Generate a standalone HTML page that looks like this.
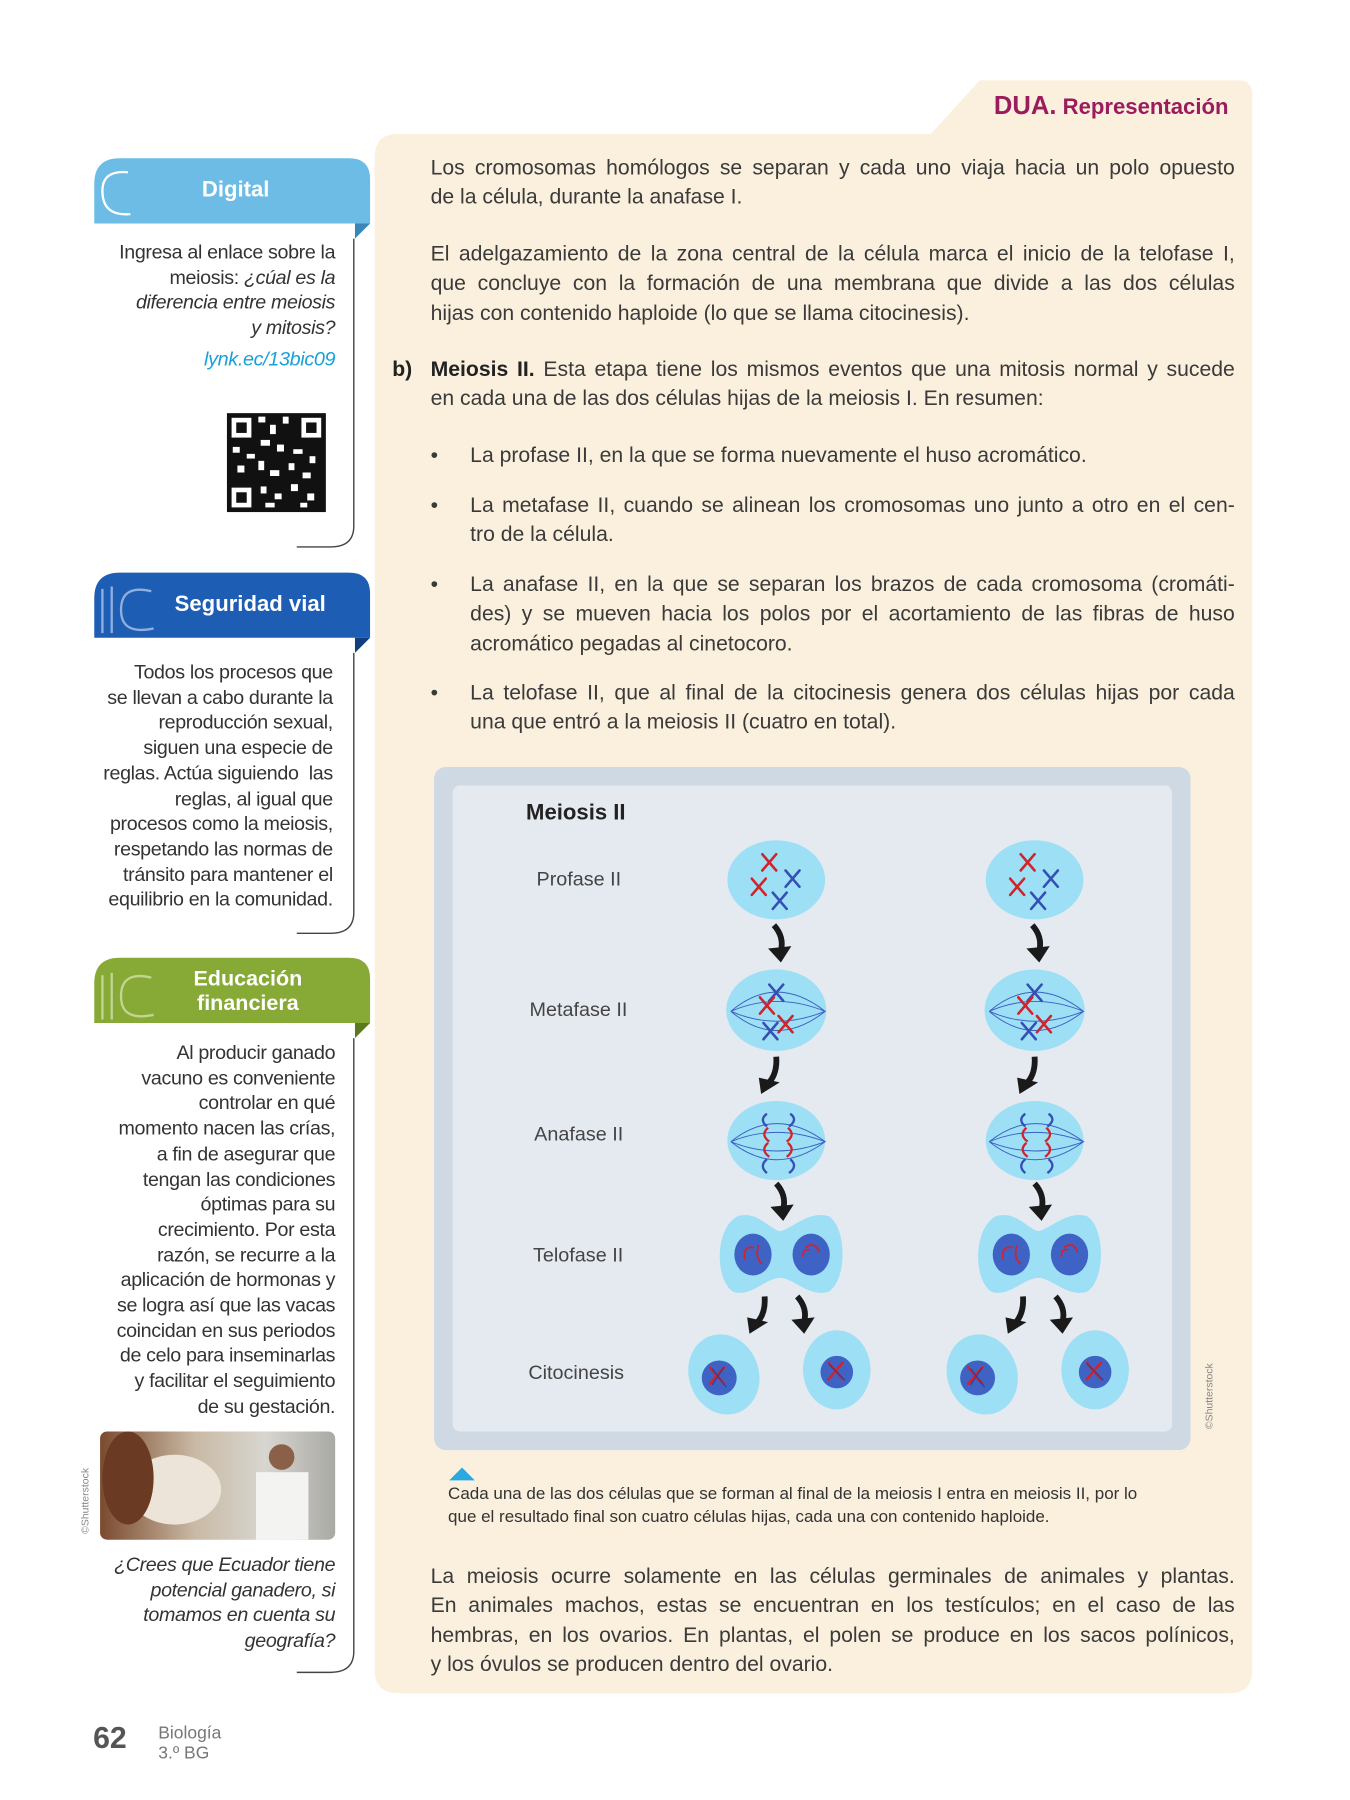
<!DOCTYPE html>
<html><head><meta charset="utf-8"><style>
html,body{margin:0;padding:0;background:#fff;}
body{width:1350px;height:1800px;overflow:hidden;position:relative;}
#w{position:absolute;left:0;top:0;width:1160px;height:1547px;transform:scale(1.16379);transform-origin:0 0;font-family:"Liberation Sans",sans-serif;color:#333;}
.a{position:absolute;}
.main{font-size:18.2px;line-height:25.3px;color:#3a3a3a;}
.j{text-align:justify;text-align-last:justify;white-space:nowrap;}
.side{font-size:16.9px;line-height:21.7px;text-align:right;color:#333;letter-spacing:-0.3px;}
.hdr{color:#fff;font-weight:bold;font-size:19px;text-align:center;}
.lbl{font-size:17px;color:#444;}
</style></head><body><div id="w">
<svg class="a" style="left:0;top:0" width="1160" height="1547" viewBox="0 0 1160 1547">
<defs>
<g id="arr"><path d="M-3,-20 Q6,-10 3,2" stroke="#1a1a1a" stroke-width="5" fill="none"/><path d="M-8,0 L12,-2 L3,12 Z" fill="#1a1a1a"/></g>
<g id="arrL"><path d="M5,-20 Q6,-6 -1,2" stroke="#1a1a1a" stroke-width="5" fill="none"/><path d="M-10,-2 L8,2 L-8,12 Z" fill="#1a1a1a"/></g>
<g id="xr"><path d="M-6,-7 L6,7 M6,-7 L-6,7" stroke-width="2.2" fill="none" stroke-linecap="round"/></g>
</defs>
<path d="M842,69 L1064,69 Q1076,69 1076,81 L1076,1435 Q1076,1455 1056,1455 L342,1455 Q322,1455 322,1435 L322,135 Q322,115 342,115 L800,115 Z" fill="#fbf0dd"/>
<path d="M842,69 L800,115 L810,115 L842,84 Z" fill="#fbf0dd"/>
<path d="M103,136 L300,136 Q318,136 318,154 L318,192 L81,192 L81,158 Q81,136 103,136Z" fill="#6cbce5"/>
<path d="M305,192 L318,192 L305,205Z" fill="#3b86b8"/>
<path d="M110,148 Q88,146 88,164 Q88,186 112,184" stroke="#fff" stroke-width="2" fill="none"/>
<path d="M103,492 L300,492 Q318,492 318,510 L318,548 L81,548 L81,514 Q81,492 103,492Z" fill="#1d5db3"/>
<path d="M305,548 L318,548 L305,561Z" fill="#123e80"/>
<path d="M88,506 L88,544 M96,504 L96,544 M130,508 Q104,502 104,524 Q104,546 132,540" stroke="#8fb0de" stroke-width="2" fill="none"/>
<path d="M103,823 L300,823 Q318,823 318,841 L318,879 L81,879 L81,845 Q81,823 103,823Z" fill="#87aa37"/>
<path d="M305,879 L318,879 L305,892Z" fill="#5b7a1e"/>
<path d="M88,838 L88,876 M96,836 L96,876 M130,840 Q104,834 104,856 Q104,878 132,872" stroke="#c2d592" stroke-width="2" fill="none"/>
<path d="M304,205 L304,452 Q304,470 284,470 L255,470" stroke="#444" stroke-width="1.2" fill="none"/>
<path d="M304,561 L304,784 Q304,802 284,802 L255,802" stroke="#444" stroke-width="1.2" fill="none"/>
<path d="M304,892 L304,1419 Q304,1437 284,1437 L255,1437" stroke="#444" stroke-width="1.2" fill="none"/>
<g fill="#111"><rect x="195" y="355" width="85" height="85"/></g>
<g fill="#fff">
<rect x="199" y="359" width="17" height="17"/><rect x="259" y="359" width="17" height="17"/><rect x="199" y="419" width="17" height="17"/>
<rect x="222" y="358" width="6" height="5"/><rect x="232" y="365" width="5" height="8"/><rect x="243" y="358" width="5" height="6"/><rect x="224" y="378" width="8" height="5"/>
<rect x="200" y="384" width="6" height="5"/><rect x="212" y="390" width="7" height="4"/><rect x="238" y="382" width="6" height="6"/><rect x="252" y="386" width="8" height="4"/><rect x="266" y="392" width="5" height="6"/>
<rect x="204" y="400" width="6" height="6"/><rect x="222" y="396" width="5" height="8"/><rect x="232" y="404" width="8" height="5"/><rect x="248" y="398" width="5" height="6"/><rect x="260" y="406" width="7" height="5"/>
<rect x="224" y="418" width="5" height="6"/><rect x="236" y="424" width="6" height="5"/><rect x="250" y="416" width="6" height="6"/><rect x="264" y="424" width="6" height="6"/><rect x="228" y="432" width="8" height="4"/><rect x="258" y="432" width="6" height="4"/>
</g>
<g fill="#111"><rect x="203" y="363" width="9" height="9"/><rect x="263" y="363" width="9" height="9"/><rect x="203" y="423" width="9" height="9"/></g>
<defs><linearGradient id="ph" x1="0" x2="1"><stop offset="0" stop-color="#7a4a2e"/><stop offset="0.4" stop-color="#c9b9a4"/><stop offset="0.7" stop-color="#d8d6d0"/><stop offset="1" stop-color="#a9a9a4"/></linearGradient></defs>
<rect x="86" y="1230" width="202" height="93" rx="6" fill="url(#ph)"/>
<ellipse cx="150" cy="1280" rx="40" ry="30" fill="#ece4d8"/>
<ellipse cx="110" cy="1270" rx="22" ry="40" fill="#6a3a22"/>
<rect x="220" y="1265" width="45" height="58" fill="#f3f3f1"/>
<circle cx="242" cy="1252" r="11" fill="#8a6048"/>
<rect x="373" y="659" width="650" height="587" rx="10" fill="#cfd9e4"/>
<rect x="389" y="675" width="618" height="555" rx="6" fill="#e5eaf1"/>
<path d="M386,1272 L397,1261 L408,1272Z" fill="#29a9e0"/>
<g id="col">
<ellipse cx="667" cy="756" rx="42" ry="34" fill="#9ddff5"/>
<g stroke="#d2232a"><use href="#xr" x="661" y="741"/><use href="#xr" x="652" y="762"/></g>
<g stroke="#3550b4"><use href="#xr" x="681" y="755"/><use href="#xr" x="670" y="774"/></g>
<ellipse cx="667" cy="868" rx="43" ry="35" fill="#9ddff5"/>
<path d="M628,869 Q667,836 709,869 Q667,902 628,869 M628,869 Q667,852 709,869 Q667,886 628,869" stroke="#3b5fc0" stroke-width="0.8" fill="none"/>
<g stroke="#3550b4"><use href="#xr" x="667" y="853"/><use href="#xr" x="662" y="886"/></g>
<g stroke="#d2232a"><use href="#xr" x="659" y="864"/><use href="#xr" x="675" y="880"/></g>
<ellipse cx="667" cy="980" rx="42" ry="34" fill="#9ddff5"/>
<path d="M628,981 Q667,950 709,981 Q667,1012 628,981 M628,981 Q667,965 709,981 Q667,997 628,981" stroke="#3b5fc0" stroke-width="0.8" fill="none"/>
<path d="M659,957 Q652,962 659,968 M679,957 Q686,962 678,968 M659,996 Q652,1002 659,1008 M679,996 Q686,1002 678,1008" stroke="#3550b4" stroke-width="2" fill="none"/>
<path d="M660,969 Q653,975 661,981 M677,969 Q684,975 676,981 M660,982 Q653,988 661,994 M677,982 Q684,988 676,994" stroke="#d2232a" stroke-width="2" fill="none"/>
<path d="M634,1045 C650,1040 660,1055 670,1058 C682,1055 695,1040 712,1045 C728,1055 728,1100 712,1110 C695,1115 682,1098 670,1098 C658,1098 645,1115 630,1110 C614,1100 614,1055 634,1045Z" fill="#9ddff5"/>
<ellipse cx="647" cy="1078" rx="16" ry="18" fill="#3f63c4"/><ellipse cx="697" cy="1078" rx="16" ry="18" fill="#3f63c4"/>
<path d="M640,1082 Q638,1070 648,1072 M652,1070 Q648,1080 655,1086 M692,1072 Q700,1066 704,1076 M690,1080 Q690,1072 696,1074" stroke="#d2232a" stroke-width="1.5" fill="none"/>
<ellipse cx="622" cy="1181" rx="30" ry="35" transform="rotate(-20 622 1181)" fill="#9ddff5"/>
<circle cx="618" cy="1184" r="15" fill="#3f63c4"/>
<ellipse cx="719" cy="1177" rx="29" ry="34" fill="#9ddff5"/>
<circle cx="719" cy="1179" r="14" fill="#3f63c4"/>
<g stroke="#d2232a"><use href="#xr" x="616" y="1182"/><use href="#xr" x="718" y="1178"/></g>
<g stroke="#2a3f9a" stroke-width="1"><path d="M612,1176 L624,1192 M622,1175 L612,1190"/><path d="M712,1172 L726,1186"/></g>
<use href="#arr" x="668" y="815"/><use href="#arrL" x="662" y="928"/><use href="#arr" x="670" y="1037"/>
<use href="#arrL" x="652" y="1134"/><use href="#arr" x="688" y="1134"/>
</g>
<use href="#col" x="222" y="0"/>
</svg>

<div class="a" style="left:854px;top:78px;font-size:19px;color:#9b1c5c;white-space:nowrap"><b style="font-size:22px">DUA.</b> <b>Representación</b></div>

<div class="a hdr" style="left:120px;top:153px;width:165px">Digital</div>
<div class="a side" style="left:70px;top:206px;width:218px">Ingresa al enlace sobre la<br>meiosis: <i>¿cúal es la<br>diferencia entre meiosis<br>y mitosis?</i></div>
<div class="a side" style="left:70px;top:298px;width:218px;color:#1aa0d8;font-style:italic;font-size:17px">lynk.ec/13bic09</div>

<div class="a hdr" style="left:130px;top:509px;width:170px">Seguridad vial</div>
<div class="a side" style="left:60px;top:567px;width:226px">Todos los procesos que<br>se llevan a cabo durante la<br>reproducción sexual,<br>siguen una especie de<br>reglas. Actúa siguiendo &nbsp;las<br>reglas, al igual que<br>procesos como la meiosis,<br>respetando las normas de<br>tránsito para mantener el<br>equilibrio en la comunidad.</div>

<div class="a hdr" style="left:130px;top:830px;width:166px;font-size:18.5px;line-height:21px">Educación<br>financiera</div>
<div class="a side" style="left:60px;top:894px;width:228px">Al producir ganado<br>vacuno es conveniente<br>controlar en qué<br>momento nacen las crías,<br>a fin de asegurar que<br>tengan las condiciones<br>óptimas para su<br>crecimiento. Por esta<br>razón, se recurre a la<br>aplicación de hormonas y<br>se logra así que las vacas<br>coincidan en sus periodos<br>de celo para inseminarlas<br>y facilitar el seguimiento<br>de su gestación.</div>
<div class="a" style="left:68px;top:1318px;transform:rotate(-90deg);transform-origin:0 0;font-size:9px;color:#888">©Shutterstock</div>
<div class="a side" style="left:60px;top:1334px;width:228px;font-style:italic">¿Crees que Ecuador tiene<br>potencial ganadero, si<br>tomamos en cuenta su<br>geografía?</div>

<div class="a main" style="left:370px;top:132px;width:691px">
<div class="j">Los cromosomas homólogos se separan y cada uno viaja hacia un polo opuesto</div>
<div>de la célula, durante la anafase I.</div>
</div>
<div class="a main" style="left:370px;top:206px;width:691px">
<div class="j">El adelgazamiento de la zona central de la célula marca el inicio de la telofase I,</div>
<div class="j">que concluye con la formación de una membrana que divide a las dos células</div>
<div>hijas con contenido haploide (lo que se llama citocinesis).</div>
</div>
<div class="a main" style="left:337px;top:305px;font-weight:bold;color:#222">b)</div>
<div class="a main" style="left:370px;top:305px;width:691px">
<div class="j"><b style="color:#222">Meiosis II.</b> Esta etapa tiene los mismos eventos que una mitosis normal y sucede</div>
<div>en cada una de las dos células hijas de la meiosis I. En resumen:</div>
</div>
<div class="a main" style="left:370px;top:379px">•</div>
<div class="a main" style="left:404px;top:379px">La profase II, en la que se forma nuevamente el huso acromático.</div>
<div class="a main" style="left:370px;top:422px">•</div>
<div class="a main" style="left:404px;top:422px;width:657px"><div class="j">La metafase II, cuando se alinean los cromosomas uno junto a otro en el cen-</div><div>tro de la célula.</div></div>
<div class="a main" style="left:370px;top:490px">•</div>
<div class="a main" style="left:404px;top:490px;width:657px"><div class="j">La anafase II, en la que se separan los brazos de cada cromosoma (cromáti-</div><div class="j">des) y se mueven hacia los polos por el acortamiento de las fibras de huso</div><div>acromático pegadas al cinetocoro.</div></div>
<div class="a main" style="left:370px;top:583px">•</div>
<div class="a main" style="left:404px;top:583px;width:657px"><div class="j">La telofase II, que al final de la citocinesis genera dos células hijas por cada</div><div>una que entró a la meiosis II (cuatro en total).</div></div>

<div class="a" style="left:452px;top:688px;font-size:19px;font-weight:bold;color:#222">Meiosis II</div>
<div class="a lbl" style="left:461px;top:746px">Profase II</div>
<div class="a lbl" style="left:455px;top:858px">Metafase II</div>
<div class="a lbl" style="left:459px;top:965px">Anafase II</div>
<div class="a lbl" style="left:458px;top:1069px">Telofase II</div>
<div class="a lbl" style="left:454px;top:1170px">Citocinesis</div>
<div class="a" style="left:1034px;top:1228px;transform:rotate(-90deg);transform-origin:0 0;font-size:9px;color:#888">©Shutterstock</div>

<div class="a" style="left:385px;top:1274px;width:640px;font-size:14.6px;line-height:20px;color:#333">Cada una de las dos células que se forman al final de la meiosis I entra en meiosis II, por lo<br>que el resultado final son cuatro células hijas, cada una con contenido haploide.</div>

<div class="a main" style="left:370px;top:1342px;width:691px">
<div class="j">La meiosis ocurre solamente en las células germinales de animales y plantas.</div>
<div class="j">En animales machos, estas se encuentran en los testículos; en el caso de las</div>
<div class="j">hembras, en los ovarios. En plantas, el polen se produce en los sacos polínicos,</div>
<div>y los óvulos se producen dentro del ovario.</div>
</div>

<div class="a" style="left:80px;top:1478px;font-size:26px;font-weight:bold;color:#555">62</div>
<div class="a" style="left:136px;top:1481px;font-size:15px;line-height:17px;color:#777">Biología<br>3.º BG</div>
</div></body></html>
